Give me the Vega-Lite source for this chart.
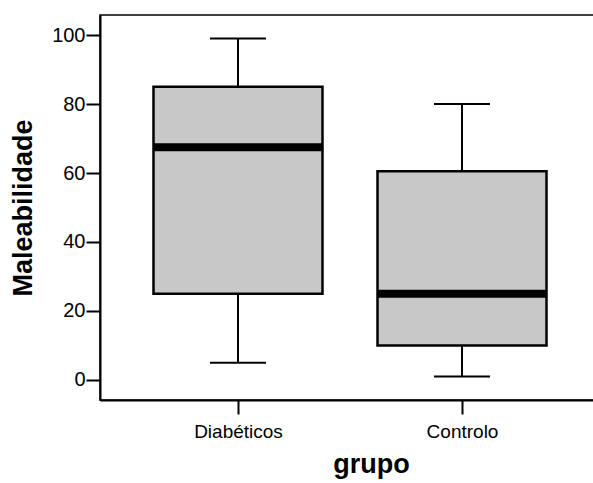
{
  "$schema": "https://vega.github.io/schema/vega-lite/v6.json",
  "autosize": {"type": "none"},
  "padding": {"left": 100, "top": 15, "right": 0, "bottom": 83},
  "width": 500,
  "height": 385,
  "background": "white",
  "config": {
    "view": {"stroke": "black", "strokeWidth": 1.5},
    "font": "Liberation Sans"
  },
  "data": {
    "values": [
      {"grupo": "Diabéticos", "min": 5, "q1": 25, "median": 67.5, "q3": 85, "max": 99},
      {"grupo": "Controlo", "min": 1, "q1": 10, "median": 25, "q3": 60.5, "max": 80}
    ]
  },
  "encoding": {
    "x": {
      "field": "grupo",
      "type": "nominal",
      "sort": ["Diabéticos", "Controlo"],
      "scale": {"type": "point", "padding": 0.616},
      "axis": {
        "title": "grupo",
        "titleFont": "Liberation Sans",
        "titleFontSize": 27,
        "titleFontWeight": "bold",
        "titleColor": "black",
        "titlePadding": 10,
        "titleX": 271,
        "labelFont": "Liberation Sans",
        "labelFontSize": 19,
        "labelColor": "black",
        "labelAngle": 0,
        "labelPadding": 8,
        "tickSize": 14,
        "tickWidth": 2,
        "tickColor": "black",
        "domainWidth": 2,
        "domainColor": "black",
        "grid": false
      }
    }
  },
  "layer": [
    {
      "mark": {"type": "rule", "color": "black", "strokeWidth": 2},
      "encoding": {
        "y": {
          "field": "min",
          "type": "quantitative",
          "scale": {"domain": [-5.8, 105.8], "nice": false, "zero": false},
          "axis": {
            "title": "Maleabilidade",
            "titleFont": "Liberation Sans",
            "titleFontSize": 27,
            "titleFontWeight": "bold",
            "titleColor": "black",
            "titlePadding": 14,
            "values": [0, 20, 40, 60, 80, 100],
            "labelFont": "Liberation Sans",
            "labelFontSize": 20,
            "labelColor": "black",
            "labelPadding": 1,
            "tickSize": 14,
            "tickWidth": 2,
            "tickColor": "black",
            "domainWidth": 2,
            "domainColor": "black",
            "grid": false
          }
        },
        "y2": {"field": "q1"}
      }
    },
    {
      "mark": {"type": "rule", "color": "black", "strokeWidth": 2},
      "encoding": {
        "y": {"field": "q3", "type": "quantitative"},
        "y2": {"field": "max"}
      }
    },
    {
      "mark": {"type": "bar", "size": 169, "fill": "#c8c8c8", "stroke": "black", "strokeWidth": 2.5},
      "encoding": {
        "y": {"field": "q1", "type": "quantitative"},
        "y2": {"field": "q3"}
      }
    },
    {
      "mark": {"type": "tick", "size": 169, "thickness": 8, "color": "black", "opacity": 1},
      "encoding": {"y": {"field": "median", "type": "quantitative"}}
    },
    {
      "mark": {"type": "tick", "size": 56, "thickness": 2, "color": "black", "opacity": 1},
      "encoding": {"y": {"field": "min", "type": "quantitative"}}
    },
    {
      "mark": {"type": "tick", "size": 56, "thickness": 2, "color": "black", "opacity": 1},
      "encoding": {"y": {"field": "max", "type": "quantitative"}}
    }
  ]
}
